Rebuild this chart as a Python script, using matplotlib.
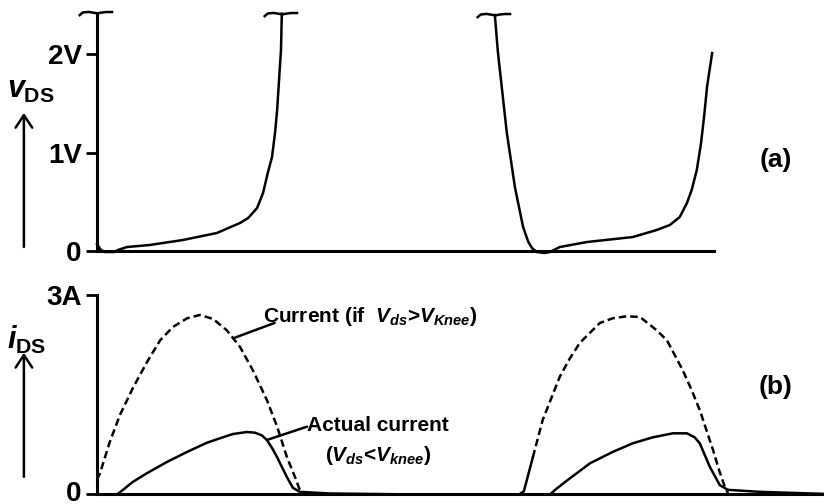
import matplotlib

matplotlib.use("Agg")
import matplotlib.pyplot as plt
import matplotlib.transforms as mtransforms
import numpy as np
from matplotlib.patches import FancyArrowPatch
from matplotlib.path import Path

plt.rcParams["font.family"] = ["Liberation Sans", "DejaVu Sans"]
plt.rcParams["font.weight"] = "bold"
plt.rcParams["mathtext.fontset"] = "custom"
plt.rcParams["mathtext.rm"] = "Liberation Sans:bold"
plt.rcParams["mathtext.bf"] = "Liberation Sans:bold"
plt.rcParams["mathtext.it"] = "Liberation Sans:italic:bold"

# time in arbitrary units (one switching period = 10)
vds_t1 = [0.0, 0.09, 0.19, 0.40, 0.49, 0.70, 1.24, 2.01, 2.81, 3.35, 3.54, 3.75, 3.89, 4.00,
          4.10, 4.17, 4.22, 4.26, 4.31, 4.33]
vds_v1 = [0.076, 0.015, -0.005, -0.005, 0.015, 0.045, 0.066, 0.116, 0.187, 0.288, 0.338, 0.439,
          0.591, 0.793, 0.955, 1.197, 1.429, 1.702, 2.035, 2.404]
vds_t2 = [9.32, 9.39, 9.60, 9.79, 9.98, 10.10, 10.19, 10.30, 10.49, 10.61, 10.84, 11.48, 12.55,
          13.11, 13.42, 13.65, 13.82, 13.93, 14.05, 14.15, 14.22, 14.29, 14.36, 14.41]
vds_v2 = [2.39, 2.02, 1.20, 0.65, 0.25, 0.10, 0.035, -0.005, -0.015, -0.005, 0.045, 0.096, 0.146,
          0.217, 0.268, 0.348, 0.49, 0.621, 0.823, 1.096, 1.359, 1.662, 1.864, 2.005]

# current that would flow if the device stayed above the knee voltage
ideal_t1 = [0.0, 0.07, 0.30, 0.54, 0.84, 1.17, 1.48, 1.78, 2.11, 2.41, 2.72, 3.04, 3.35, 3.65,
            3.98, 4.22, 4.45, 4.64, 4.75, 4.82]
ideal_i1 = [0.22, 0.32, 0.79, 1.20, 1.60, 1.99, 2.32, 2.52, 2.65, 2.70, 2.64, 2.47, 2.22, 1.87,
            1.42, 1.02, 0.56, 0.26, 0.07, 0.01]
ideal_t2 = [9.91, 10.00, 10.07, 10.21, 10.44, 10.84, 11.08, 11.31, 11.78, 12.08, 12.41, 12.72,
            13.11, 13.35, 13.72, 13.93, 14.12, 14.43, 14.57, 14.71, 14.78]
ideal_i2 = [0.01, 0.05, 0.22, 0.56, 1.12, 1.77, 2.05, 2.28, 2.58, 2.65, 2.68, 2.67, 2.47, 2.32,
            1.87, 1.57, 1.27, 0.67, 0.37, 0.11, 0.02]

# measured current, limited by the knee
actual_t1 = [0.47, 0.61, 0.84, 1.17, 1.64, 2.11, 2.58, 3.04, 3.19, 3.51, 3.70, 3.86, 3.98, 4.10,
             4.22, 4.45, 4.59, 4.75, 5.46, 7.57]
actual_i1 = [0.0, 0.07, 0.19, 0.32, 0.49, 0.64, 0.78, 0.88, 0.91, 0.94, 0.93, 0.89, 0.82, 0.70,
             0.56, 0.26, 0.10, 0.04, 0.015, 0.0]
actual_t2 = [10.61, 10.77, 11.01, 11.55, 12.08, 12.55, 13.02, 13.49, 13.82, 14.00, 14.12, 14.36,
             14.59, 14.78, 15.53, 17.0]
actual_i2 = [0.0, 0.09, 0.21, 0.47, 0.64, 0.77, 0.86, 0.92, 0.92, 0.86, 0.77, 0.41, 0.14, 0.07,
             0.04, 0.01]

v_ticks = [0, 1, 2]
v_labels = ["0", "1V", "2V"]
i_ticks = [0, 3]
i_labels = ["0", "3A"]

t_max = 17.03
v_top = 2.41
base_end = 14.45
lw_axis = 2.2
lw_curve = 1.8
dash = (0, (3.0, 1.6))

# small curly break mark drawn where the trace leaves the plot
brace = Path([(-19, -2.5), (-15, 1.0), (-9, 1.6), (-3, 0.6), (0, 0), (3, 0.8), (9, 1.5), (16, 1.5)])

fig = plt.figure(figsize=(8.24, 5.04), dpi=100)
ax_v = fig.add_axes([0.1177, 0.501, 0.8823, 0.4732])
ax_i = fig.add_axes([0.1177, 0.01885, 0.8823, 0.3958])


def style_axis(ax, ticks, labels, ymax):
    ax.set_xlim(0, t_max)
    ax.set_ylim(0, ymax)
    for side in ("top", "right"):
        ax.spines[side].set_visible(False)
    for side in ("left", "bottom"):
        ax.spines[side].set_linewidth(lw_axis)
    ax.spines["left"].set_bounds(0, ymax)
    ax.set_xticks([])
    ax.set_yticks(ticks)
    ax.set_yticklabels(labels)
    ax.tick_params(axis="y", length=8, width=2, pad=3, labelsize=20)
    ax.patch.set_visible(False)


style_axis(ax_v, v_ticks, v_labels, v_top)
ax_v.spines["bottom"].set_bounds(0, base_end)
style_axis(ax_i, i_ticks, i_labels, 3)

# keep the lowest "0" inside the canvas
zero_lbl = ax_i.get_yticklabels()[0]
zero_lbl.set_transform(zero_lbl.get_transform()
                       + mtransforms.ScaledTranslation(0, 0.03, fig.dpi_scale_trans))

# (a) drain-source voltage
ax_v.plot(vds_t1, vds_v1, color="black", lw=lw_curve, clip_on=False)
ax_v.plot(vds_t2, vds_v2, color="black", lw=lw_curve, clip_on=False)
ax_v.plot([0, vds_t1[-1], vds_t2[0]], [v_top, vds_v1[-1], vds_v2[0]], ls="none",
          marker=brace, markersize=27, mew=1.8, mfc="none", mec="black", clip_on=False)

# (b) drain-source current
ax_i.plot(ideal_t1, ideal_i1, color="black", lw=lw_curve, ls=dash, clip_on=False)
ax_i.plot(ideal_t2[:4], ideal_i2[:4], color="black", lw=lw_curve, clip_on=False)
ax_i.plot(ideal_t2[3:], ideal_i2[3:], color="black", lw=lw_curve, ls=dash, clip_on=False)
ax_i.plot(actual_t1, actual_i1, color="black", lw=lw_curve, clip_on=False)
ax_i.plot(actual_t2, actual_i2, color="black", lw=lw_curve, clip_on=False)

lead = dict(arrowstyle="-", lw=1.8, color="black", shrinkA=0, shrinkB=0)
ax_i.annotate("", xy=(3.19, np.interp(3.19, ideal_t1, ideal_i1)), xytext=(4.16, 2.58),
              arrowprops=lead)
ax_i.text(3.88, 2.68, r"Current (if  $V_{ds}$>$V_{Knee}$)", fontsize=15, va="center", ha="left")
ax_i.annotate("", xy=(3.98, np.interp(3.98, actual_t1, actual_i1)), xytext=(4.92, 1.02),
              arrowprops=lead)
ax_i.text(4.92, 1.04, "Actual current", fontsize=15, va="center", ha="left")
ax_i.text(5.34, 0.59, r"($V_{ds}$<$V_{knee}$)", fontsize=15, va="center", ha="left")

# axis names with upward arrows
fig.text(0.009, 0.822, r"$v_{\mathrm{DS}}$", fontsize=22, va="center", ha="left")
fig.text(0.008, 0.325, r"$i_{\mathrm{DS}}$", fontsize=22, va="center", ha="left")
arrow = dict(arrowstyle="->,head_length=0.45,head_width=0.3", mutation_scale=20, lw=1.8,
             color="black", shrinkA=0, shrinkB=0, transform=fig.transFigure)
fig.add_artist(FancyArrowPatch((0.029, 0.510), (0.029, 0.776), **arrow))
fig.add_artist(FancyArrowPatch((0.029, 0.054), (0.029, 0.300), **arrow))

fig.text(0.941, 0.683, "(a)", fontsize=19, va="center", ha="center")
fig.text(0.941, 0.232, "(b)", fontsize=19, va="center", ha="center")

fig.savefig("out.png", dpi=100)
